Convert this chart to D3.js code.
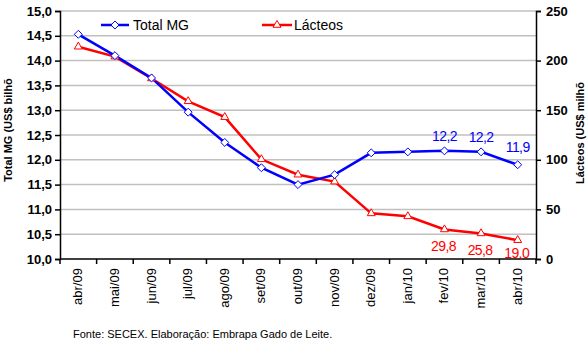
<!DOCTYPE html>
<html><head><meta charset="utf-8">
<script src="https://cdn.jsdelivr.net/npm/d3@7"></script>
<style>body{margin:0;background:#fff}svg{display:block;font-family:"Liberation Sans",Arial,sans-serif}</style>
</head><body><svg id="c" width="587" height="344"></svg>
<script>
const categories=["abr/09","mai/09","jun/09","jul/09","ago/09","set/09","out/09","nov/09","dez/09","jan/10","fev/10","mar/10","abr/10"];
const totalMG=[14.53,14.10,13.65,12.96,12.35,11.84,11.50,11.70,12.14,12.16,12.18,12.16,11.90];
const lacteos=[214,204,182,159,143,100.5,85,78,46,43,29.8,25.8,19.0];
const leftTicks=[10,10.5,11,11.5,12,12.5,13,13.5,14,14.5,15];
const rightTicks=[0,50,100,150,200,250];
const mgLabels=[null,null,null,null,null,null,null,null,null,null,"12,2","12,2","11,9"];
const lacLabels=[null,null,null,null,null,null,null,null,null,null,"29,8","25,8","19,0"];

const svg=d3.select("#c");
const L=60,R=536,T=11,B=259;
const x=d3.scaleBand().domain(categories).range([L,R]);
const yL=d3.scaleLinear().domain([10,15]).range([B,T]);
const yR=d3.scaleLinear().domain([0,250]).range([B,T]);
const BLUE="#0000ff",RED="#ff0000";

// gridlines
svg.append("g").selectAll("line").data(leftTicks.slice(1)).join("line")
 .attr("x1",L).attr("x2",R).attr("y1",d=>yL(d)).attr("y2",d=>yL(d))
 .attr("stroke","#c0c0c0").attr("stroke-width",1.5);

// left axis
const fmt=d=>d3.format(".1f")(d).replace(".",",");
const gl=svg.append("g").attr("transform",`translate(${L},0)`)
 .call(d3.axisLeft(yL).tickValues(leftTicks).tickFormat(fmt).tickSize(5).tickPadding(3));
gl.selectAll("text").attr("font-size",13).attr("font-weight","bold").attr("fill","#000").attr("font-family","Liberation Sans, Arial");
gl.select(".domain").attr("stroke","#000").attr("stroke-width",1.5);
gl.selectAll(".tick line").attr("stroke","#000").attr("stroke-width",1.5);

// right axis
const gr=svg.append("g").attr("transform",`translate(${R},0)`)
 .call(d3.axisRight(yR).tickValues(rightTicks).tickSize(5).tickPadding(5));
gr.selectAll("text").attr("font-size",13).attr("font-weight","bold").attr("fill","#000").attr("font-family","Liberation Sans, Arial");
gr.select(".domain").attr("stroke","#000").attr("stroke-width",1.5);
gr.selectAll(".tick line").attr("stroke","#000").attr("stroke-width",1.5);

// bottom axis
const gb=svg.append("g").attr("transform",`translate(0,${B})`);
gb.append("line").attr("x1",L).attr("x2",R).attr("stroke","#000").attr("stroke-width",1.5);
gb.selectAll(".tk").data(categories.concat(["end"])).join("line").attr("class","tk")
 .attr("x1",(d,i)=>L+i*x.step()).attr("x2",(d,i)=>L+i*x.step()).attr("y1",0).attr("y2",5)
 .attr("stroke","#000").attr("stroke-width",1.5);
gb.selectAll("text").data(categories).join("text")
 .attr("transform",d=>`translate(${x(d)+x.bandwidth()/2+4},9) rotate(-90)`)
 .attr("text-anchor","end").attr("font-size",13).attr("fill","#000").text(d=>d);

// lines
const cx=d=>x(d)+x.bandwidth()/2;
const lineMG=d3.line().x((d,i)=>cx(categories[i])).y(d=>yL(d));
const lineLac=d3.line().x((d,i)=>cx(categories[i])).y(d=>yR(d));
svg.append("path").attr("d",lineLac(lacteos)).attr("fill","none").attr("stroke",RED).attr("stroke-width",2.5);
svg.append("path").attr("d",lineMG(totalMG)).attr("fill","none").attr("stroke",BLUE).attr("stroke-width",2.5);

const diamond=d3.symbol(d3.symbolDiamond2,40)();
const tri=d3.symbol(d3.symbolTriangle2,45)();
svg.append("g").selectAll("path").data(lacteos).join("path")
 .attr("d",tri).attr("transform",(d,i)=>`translate(${cx(categories[i])},${yR(d)})`)
 .attr("fill","#fff").attr("stroke",RED).attr("stroke-width",1);
svg.append("g").selectAll("path").data(totalMG).join("path")
 .attr("d",diamond).attr("transform",(d,i)=>`translate(${cx(categories[i])},${yL(d)})`)
 .attr("fill","#fff").attr("stroke",BLUE).attr("stroke-width",1);

// data labels
const mgData=categories.map((c,i)=>({c,v:totalMG[i],l:mgLabels[i],next:totalMG[i+1]})).filter(d=>d.l);
svg.selectAll(".mgl").data(mgData).join("text").attr("class","mgl")
 .attr("x",d=>cx(d.c)).attr("y",(d,i)=>yL(d.v)-(i===mgData.length-1?13:10)).attr("text-anchor","middle")
 .attr("font-size",14).attr("fill",BLUE).attr("letter-spacing",-0.6).text(d=>d.l);
svg.selectAll(".lcl").data(categories.map((c,i)=>({c,v:lacteos[i],l:lacLabels[i]})).filter(d=>d.l)).join("text").attr("class","lcl")
 .attr("x",d=>cx(d.c)-1).attr("y",d=>Math.min(yR(d.v)+22,258)).attr("text-anchor","middle")
 .attr("font-size",14).attr("fill",RED).attr("letter-spacing",-0.6).text(d=>d.l);

// legend
const lg=svg.append("g");
lg.append("line").attr("x1",101).attr("x2",129).attr("y1",25).attr("y2",25).attr("stroke",BLUE).attr("stroke-width",2.5);
lg.append("path").attr("d",diamond).attr("transform","translate(115,25)").attr("fill","#fff").attr("stroke",BLUE);
lg.append("text").attr("x",133).attr("y",30).attr("font-size",14).text("Total MG");
lg.append("line").attr("x1",262).attr("x2",292).attr("y1",25).attr("y2",25).attr("stroke",RED).attr("stroke-width",2.5);
lg.append("path").attr("d",tri).attr("transform","translate(277,25)").attr("fill","#fff").attr("stroke",RED);
lg.append("text").attr("x",294).attr("y",30).attr("font-size",14).text("Lácteos");

// axis titles
svg.append("text").attr("transform","translate(12,130) rotate(-90)").attr("text-anchor","middle")
 .attr("font-size",11).attr("font-weight","bold").text("Total MG (US$ bilhõ");
svg.append("text").attr("transform","translate(584,133) rotate(-90)").attr("text-anchor","middle")
 .attr("font-size",11).attr("font-weight","bold").text("Lácteos (US$ milhõ");

// footer
svg.append("text").attr("x",73).attr("y",338).attr("font-size",11).text("Fonte: SECEX. Elaboração: Embrapa Gado de Leite.");
</script></body></html>
